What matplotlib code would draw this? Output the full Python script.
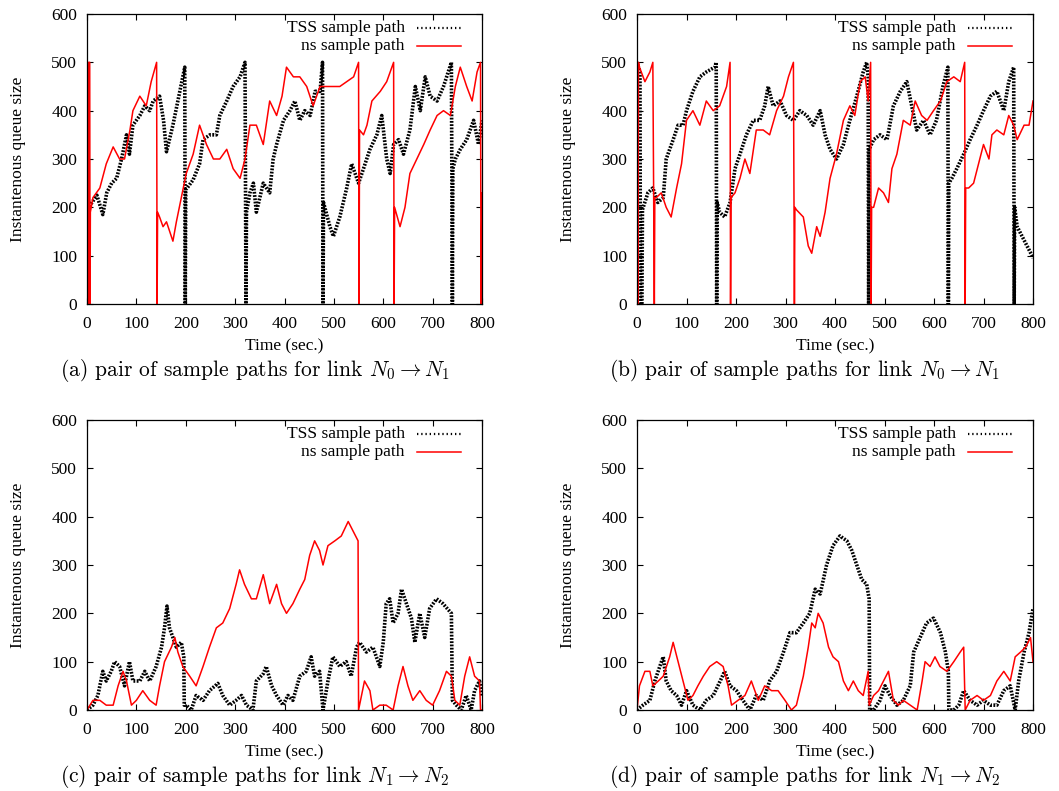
import matplotlib
matplotlib.use("Agg")
import matplotlib.pyplot as plt
from matplotlib.lines import Line2D

plt.rcParams["mathtext.fontset"] = "cm"

# (time [s], queue length)
tss_a = [(0, 0), (4, 200), (10, 210), (20, 225), (32, 185), (40, 230), (50, 250),
         (60, 260), (70, 300), (80, 350), (86, 310), (93, 370), (107, 390),
         (117, 410), (127, 400), (134, 420), (147, 430), (155, 380), (161, 315),
         (174, 370), (188, 440), (198, 490), (199, 0), (200, 236), (215, 257),
         (228, 290), (235, 340), (249, 350), (262, 350), (269, 390), (283, 420),
         (296, 450), (310, 470), (320, 500), (322, 0), (323, 190), (330, 230),
         (337, 250), (343, 190), (357, 250), (370, 230), (377, 300), (384, 330),
         (398, 380), (411, 400), (421, 420), (431, 380), (441, 400), (452, 390),
         (462, 440), (472, 440), (477, 500), (478, 0), (479, 210), (492, 160),
         (499, 140), (512, 180), (526, 240), (536, 290), (543, 270), (550, 250),
         (560, 280), (573, 320), (587, 350), (597, 390), (607, 300), (614, 270),
         (621, 330), (631, 340), (641, 310), (654, 360), (665, 450), (675, 400),
         (685, 470), (695, 430), (709, 420), (722, 450), (738, 500), (740, 0),
         (741, 280), (746, 300), (756, 320), (769, 340), (783, 380), (793, 330),
         (800, 380)]
ns_a = [(0, 0), (0.7, 500), (1.6, 500), (2.2, 0), (3.2, 0), (3.8, 500), (5.5, 500),
        (6.2, 0), (6.8, 190), (12, 220), (26, 240), (39, 290), (53, 325),
        (66, 300), (76, 300), (87, 360), (93, 400), (107, 430), (120, 410),
        (130, 460), (141, 500), (142, 0), (143, 190), (147, 180), (154, 160),
        (161, 170), (174, 130), (181, 170), (191, 220), (201, 270), (215, 310),
        (228, 370), (242, 330), (256, 300), (269, 300), (283, 320), (296, 280),
        (310, 260), (320, 300), (330, 370), (343, 370), (357, 330), (370, 420),
        (384, 390), (395, 430), (404, 490), (418, 470), (431, 470), (445, 450),
        (458, 410), (472, 450), (486, 450), (499, 450), (512, 450), (526, 460),
        (540, 470), (550, 500), (551, 0), (552, 360), (560, 350), (567, 370),
        (577, 420), (594, 440), (607, 460), (621, 500), (622, 0), (623, 200),
        (634, 160), (644, 200), (654, 270), (668, 300), (682, 330), (695, 360),
        (709, 390), (722, 400), (736, 390), (746, 450), (756, 490), (769, 450),
        (780, 420), (790, 480), (797, 500), (798, 0), (800, 230)]

tss_b = [(0, 500), (6, 480), (7, 0), (10, 0), (11, 195), (22, 230), (32, 240),
         (42, 210), (53, 220), (59, 300), (73, 340), (83, 370), (93, 370),
         (100, 400), (113, 440), (127, 470), (140, 480), (157, 490), (160, 500),
         (161, 0), (162, 210), (167, 190), (177, 180), (188, 210), (198, 280),
         (208, 310), (221, 350), (235, 380), (248, 380), (258, 410), (265, 450),
         (275, 410), (289, 420), (302, 390), (316, 380), (329, 400), (343, 390),
         (356, 370), (370, 400), (380, 350), (390, 320), (403, 300), (417, 330),
         (430, 380), (444, 430), (457, 480), (464, 500), (467, 470), (468, 0),
         (469, 320), (478, 340), (491, 350), (505, 340), (518, 410), (532, 440),
         (545, 460), (555, 410), (565, 360), (579, 380), (592, 350), (605, 380),
         (618, 450), (628, 490), (629, 0), (630, 250), (636, 260), (646, 280),
         (660, 310), (673, 340), (687, 370), (700, 400), (714, 430), (727, 440),
         (741, 400), (751, 460), (761, 490), (762, 0), (763, 200), (768, 160),
         (778, 140), (788, 120), (798, 100), (800, 95)]
ns_b = [(0, 0), (1, 500), (2, 0), (3, 500), (5, 490), (16, 460), (26, 480),
        (32, 500), (35, 0), (36, 220), (39, 220), (49, 230), (59, 200),
        (69, 180), (80, 240), (90, 290), (100, 380), (113, 400), (127, 370),
        (140, 420), (154, 400), (167, 410), (181, 450), (188, 500), (189, 0),
        (190, 220), (198, 230), (208, 260), (218, 300), (228, 270), (241, 360),
        (255, 360), (268, 350), (282, 400), (296, 430), (306, 470), (316, 500),
        (318, 0), (319, 200), (322, 195), (336, 180), (346, 120), (353, 105),
        (363, 160), (370, 140), (380, 190), (390, 260), (403, 310), (417, 380),
        (430, 410), (440, 390), (451, 460), (461, 470), (467, 420), (472, 500),
        (473, 0), (474, 200), (478, 200), (488, 240), (498, 230), (508, 210),
        (515, 280), (525, 310), (538, 380), (552, 370), (562, 420), (575, 390),
        (586, 380), (599, 400), (613, 420), (626, 460), (640, 470), (653, 460),
        (662, 500), (663, 0), (664, 240), (670, 240), (680, 250), (690, 290),
        (700, 330), (711, 300), (717, 350), (727, 360), (741, 350), (751, 390),
        (761, 370), (768, 340), (782, 370), (792, 370), (800, 420)]

tss_c = [(0, 0), (12, 10), (22, 30), (32, 80), (39, 60), (49, 80), (56, 100),
         (66, 90), (76, 50), (86, 100), (93, 60), (107, 60), (117, 80),
         (127, 60), (140, 90), (151, 130), (157, 170), (162, 215), (167, 170),
         (174, 150), (181, 130), (191, 140), (196, 110), (197, 10), (201, 10),
         (211, 0), (221, 30), (235, 20), (248, 40), (265, 55), (275, 30),
         (289, 10), (302, 20), (313, 30), (323, 10), (336, 0), (343, 60),
         (357, 75), (363, 90), (374, 50), (384, 30), (397, 10), (407, 30),
         (417, 20), (431, 70), (444, 80), (454, 110), (461, 70), (471, 80),
         (478, 0), (488, 60), (498, 110), (512, 90), (525, 100), (535, 70),
         (546, 130), (552, 140), (566, 120), (579, 130), (593, 90), (600, 140),
         (606, 220), (613, 230), (620, 180), (630, 200), (637, 250), (647, 220),
         (657, 190), (664, 140), (674, 200), (684, 150), (694, 210), (708, 230),
         (721, 220), (738, 200), (740, 20), (748, 10), (758, 0), (768, 30),
         (778, 0), (785, 40), (795, 60), (800, 30)]
ns_c = [(0, 0), (12, 20), (26, 20), (39, 10), (53, 10), (63, 50), (73, 80),
        (80, 60), (90, 10), (100, 20), (113, 40), (127, 20), (140, 10),
        (147, 50), (157, 100), (171, 130), (178, 150), (184, 120), (194, 90),
        (208, 70), (221, 50), (235, 90), (248, 130), (262, 170), (275, 180),
        (289, 210), (302, 260), (309, 290), (319, 260), (333, 230), (343, 230),
        (357, 280), (370, 220), (384, 260), (394, 220), (404, 200), (417, 220),
        (431, 250), (441, 270), (451, 320), (461, 350), (471, 330), (478, 300),
        (488, 340), (502, 350), (515, 360), (529, 390), (539, 370), (549, 350),
        (550, 0), (556, 30), (562, 60), (573, 40), (579, 0), (593, 10),
        (606, 10), (620, 0), (630, 50), (640, 90), (650, 50), (660, 20),
        (674, 40), (687, 20), (700, 10), (714, 40), (728, 80), (738, 70),
        (745, 20), (755, 10), (765, 70), (775, 110), (785, 70), (795, 60),
        (797, 0), (800, 0)]

tss_d = [(0, 0), (12, 10), (26, 20), (36, 60), (46, 90), (53, 110), (59, 60),
         (69, 40), (80, 30), (90, 10), (100, 40), (113, 10), (127, 0),
         (140, 20), (154, 30), (168, 60), (177, 80), (188, 50), (201, 40),
         (214, 20), (228, 0), (241, 30), (255, 20), (268, 60), (282, 80),
         (296, 120), (309, 160), (322, 160), (336, 180), (349, 200), (360, 250),
         (370, 240), (383, 300), (396, 340), (410, 360), (424, 350), (434, 330),
         (444, 300), (454, 270), (464, 260), (469, 230), (470, 0), (478, 0),
         (491, 20), (501, 50), (511, 30), (525, 10), (538, 20), (552, 50),
         (559, 120), (572, 150), (585, 180), (599, 190), (613, 160), (623, 120),
         (629, 80), (630, 0), (640, 0), (650, 10), (660, 40), (673, 20),
         (687, 10), (700, 20), (714, 10), (727, 10), (741, 40), (754, 50),
         (764, 0), (771, 60), (782, 120), (792, 160), (800, 210)]
ns_d = [(0, 0), (5, 50), (16, 80), (26, 80), (32, 50), (43, 60), (53, 70),
        (66, 110), (73, 140), (83, 100), (93, 60), (103, 20), (113, 30),
        (123, 50), (134, 70), (147, 90), (161, 100), (174, 90), (184, 50),
        (191, 10), (204, 20), (218, 30), (231, 60), (245, 20), (258, 50),
        (272, 40), (285, 40), (299, 20), (312, 0), (322, 10), (336, 70),
        (346, 130), (353, 180), (360, 170), (366, 200), (376, 180), (387, 130),
        (396, 110), (407, 100), (417, 60), (427, 40), (437, 60), (447, 40),
        (457, 30), (467, 80), (469, 10), (478, 30), (488, 40), (498, 60),
        (508, 80), (518, 20), (528, 10), (538, 20), (552, 10), (566, 0),
        (576, 60), (582, 100), (592, 90), (602, 110), (612, 90), (626, 80),
        (640, 100), (653, 120), (660, 130), (663, 0), (673, 20), (687, 30),
        (700, 20), (714, 30), (727, 60), (741, 80), (754, 60), (764, 110),
        (775, 120), (785, 130), (795, 150), (800, 100)]

panels = [
    ("a", tss_a, ns_a, r"$N_0 \rightarrow N_1$"),
    ("b", tss_b, ns_b, r"$N_0 \rightarrow N_1$"),
    ("c", tss_c, ns_c, r"$N_1 \rightarrow N_2$"),
    ("d", tss_d, ns_d, r"$N_1 \rightarrow N_2$"),
]

W, H = 1059, 791
fig = plt.figure(figsize=(W / 100, H / 100), dpi=100)

# pixel boxes of each axes: left, top, right, bottom
boxes = [(87, 14, 482, 304), (637, 14, 1033, 304),
         (87, 420, 482, 710), (637, 420, 1033, 710)]
caption_pos = [(255, 370), (805, 370), (255, 776), (805, 776)]

serif = "Liberation Serif"
fs = 12.5
tss_style = dict(color="black", lw=2.6, linestyle=(0, (0.5, 0.4)))
ns_style = dict(color="#ff0000", lw=1.1)

for (tag, tss, ns, link), (l, t, r, b), (cx, cy) in zip(panels, boxes, caption_pos):
    ax = fig.add_axes([l / W, 1 - b / H, (r - l) / W, (b - t) / H])
    ax.plot([p[0] for p in tss], [p[1] for p in tss], **tss_style)
    ax.plot([p[0] for p in ns], [p[1] for p in ns], **ns_style)

    ax.set_xlim(0, 800)
    ax.set_ylim(0, 600)
    ax.set_xticks(range(0, 801, 100))
    ax.set_yticks(range(0, 601, 100))
    ax.tick_params(direction="in", top=True, right=True, length=4.5, width=0.8,
                   labelsize=fs, pad=7)
    ax.tick_params(axis="x", pad=9)
    for lab in ax.get_xticklabels() + ax.get_yticklabels():
        lab.set_fontfamily(serif)
    for s in ax.spines.values():
        s.set_linewidth(0.9)

    ax.set_xlabel("Time (sec.)", fontfamily=serif, fontsize=fs)
    ax.xaxis.set_label_coords(0.5, -0.118)
    ax.set_ylabel("Instantenous queue size", fontfamily=serif, fontsize=fs)
    ax.yaxis.set_label_coords(-0.155, 0.5)

    # gnuplot-style key: right-aligned titles with the line sample after them
    for row, (label, style) in enumerate([("TSS sample path", tss_style),
                                           ("ns sample path", ns_style)]):
        yk = 0.952 - row * 0.062
        ax.text(0.805, yk, label, transform=ax.transAxes, ha="right", va="center",
                fontfamily=serif, fontsize=fs)
        st = dict(style)
        if row == 0:
            st["lw"] = 1.6
            st["linestyle"] = (0, (0.6, 1.3))
        ax.add_line(Line2D([0.835, 0.947], [yk, yk], transform=ax.transAxes, **st))

    fig.text(cx / W, 1 - cy / H, f"({tag}) pair of sample paths for link " + link,
             ha="center", va="center", fontfamily="cmr10", fontsize=15.5)

fig.savefig("out.png", dpi=100)
